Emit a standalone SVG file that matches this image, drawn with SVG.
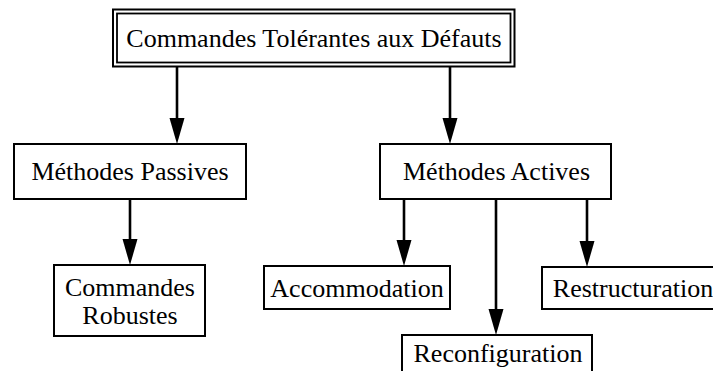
<svg xmlns="http://www.w3.org/2000/svg" width="713" height="371" viewBox="0 0 713 371">
  <style>
    .box { fill: #ffffff; stroke: #000000; stroke-width: 2; }
    .thin { fill: none; stroke: #000000; stroke-width: 1.8; }
    .label { font-family: "Liberation Serif", "Times New Roman", serif; font-size: 26px; fill: #000000; text-anchor: middle; }
    .edge { stroke: #000000; stroke-width: 2.6; fill: none; }
    .head { fill: #000000; stroke: none; }
  </style>
  <defs>
    <!-- filled arrowhead, tip at the origin, pointing down -->
    <path id="arrowhead" class="head" d="M0,0 L-7.5,-26 L7.5,-26 Z"/>
  </defs>
  <rect width="713" height="371" fill="#ffffff"/>

  <g id="connectors">
    <line class="edge" x1="177" y1="67" x2="177" y2="122"/>
    <use href="#arrowhead" x="177" y="144"/>
    <line class="edge" x1="450" y1="67" x2="450" y2="122"/>
    <use href="#arrowhead" x="450" y="144"/>
    <line class="edge" x1="130" y1="199" x2="130" y2="243"/>
    <use href="#arrowhead" x="130" y="265"/>
    <line class="edge" x1="404" y1="199" x2="404" y2="244"/>
    <use href="#arrowhead" x="404" y="266"/>
    <line class="edge" x1="496" y1="199" x2="496" y2="313"/>
    <use href="#arrowhead" x="496" y="335"/>
    <line class="edge" x1="587" y1="199" x2="587" y2="245"/>
    <use href="#arrowhead" x="587" y="267"/>
  </g>

  <g id="node-root">
    <rect class="box" x="113" y="9.5" width="401.5" height="57"/>
    <rect class="thin" x="117" y="13.5" width="393.5" height="49"/>
    <text class="label" x="314" y="47">Commandes Tolérantes aux Défauts</text>
  </g>

  <g id="node-passives">
    <rect class="box" x="14" y="144" width="232" height="55"/>
    <text class="label" x="130" y="180">Méthodes Passives</text>
  </g>

  <g id="node-actives">
    <rect class="box" x="380" y="144" width="231" height="55"/>
    <text class="label" x="496.5" y="180">Méthodes Actives</text>
  </g>

  <g id="node-robustes">
    <rect class="box" x="54" y="265" width="151" height="71"/>
    <text class="label" x="130" y="296">Commandes</text>
    <text class="label" x="130" y="324">Robustes</text>
  </g>

  <g id="node-accommodation">
    <rect class="box" x="264" y="266" width="186" height="43"/>
    <text class="label" x="357" y="297">Accommodation</text>
  </g>

  <g id="node-reconfiguration">
    <rect class="box" x="402" y="335" width="190" height="45"/>
    <text class="label" x="498" y="362">Reconfiguration</text>
  </g>

  <g id="node-restructuration">
    <rect class="box" x="542" y="267" width="190" height="42"/>
    <text class="label" x="633" y="297">Restructuration</text>
  </g>
</svg>
